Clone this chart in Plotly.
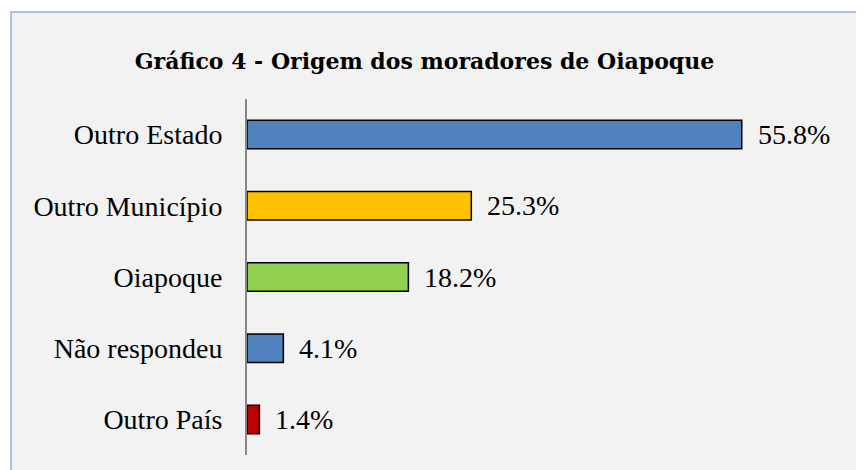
import plotly.graph_objects as go

categories = ["Outro Estado", "Outro Município", "Oiapoque", "Não respondeu", "Outro País"]
values = [55.8, 25.3, 18.2, 4.1, 1.4]
value_labels = ["55.8%", "25.3%", "18.2%", "4.1%", "1.4%"]
colors = ["#4f81bd", "#ffc000", "#92d050", "#4f81bd", "#c00000"]
title_text = "Gráfico 4 - Origem dos moradores de Oiapoque"

OFF = 8  # browser body margin
W, H = 864 - OFF, 470 - OFF
L, R, T, B = 247 - OFF, 779 - OFF, 99 - OFF, 455 - OFF

fig = go.Figure(go.Bar(
    x=values, y=categories, orientation="h",
    marker=dict(color=colors, line=dict(color="black", width=1.5)),
    width=0.4,
))

for v, c, t in zip(values, categories, value_labels):
    fig.add_annotation(x=v, y=c, text=t, showarrow=False, xanchor="left",
                       xshift=14, yanchor="middle",
                       font=dict(family="Liberation Serif", size=28, color="black"))

fig.update_layout(
    width=W, height=H,
    margin=dict(l=L, r=W - R, t=T, b=H - B, pad=0),
    paper_bgcolor="white",
    plot_bgcolor="rgba(0,0,0,0)",
    showlegend=False,
    title=dict(text="<b>" + title_text + "</b>", x=((137 + 712) / 2 - OFF) / W, xanchor="center",
               y=1 - (61 - OFF) / H, yanchor="middle",
               font=dict(family="DejaVu Serif", size=22, color="black")),
    xaxis=dict(range=[0, 60], visible=False, fixedrange=True),
    yaxis=dict(autorange=False, range=[4.5, -0.5], type="category",
               categoryorder="array", categoryarray=categories,
               showline=True, linecolor="#868686", linewidth=2,
               ticks="", showgrid=False, zeroline=False, ticklabelstandoff=17,
               tickfont=dict(family="Liberation Serif", size=28, color="black")),
    shapes=[dict(type="rect", xref="paper", yref="paper",
                 x0=(11 - OFF - L) / (R - L), x1=(900 - L) / (R - L),
                 y0=(B - 500) / (B - T), y1=(B - (12 - OFF)) / (B - T),
                 fillcolor="#f2f2f2", line=dict(color="#95b3d7", width=1.5),
                 layer="below")],
)

fig.write_html("out.html")
